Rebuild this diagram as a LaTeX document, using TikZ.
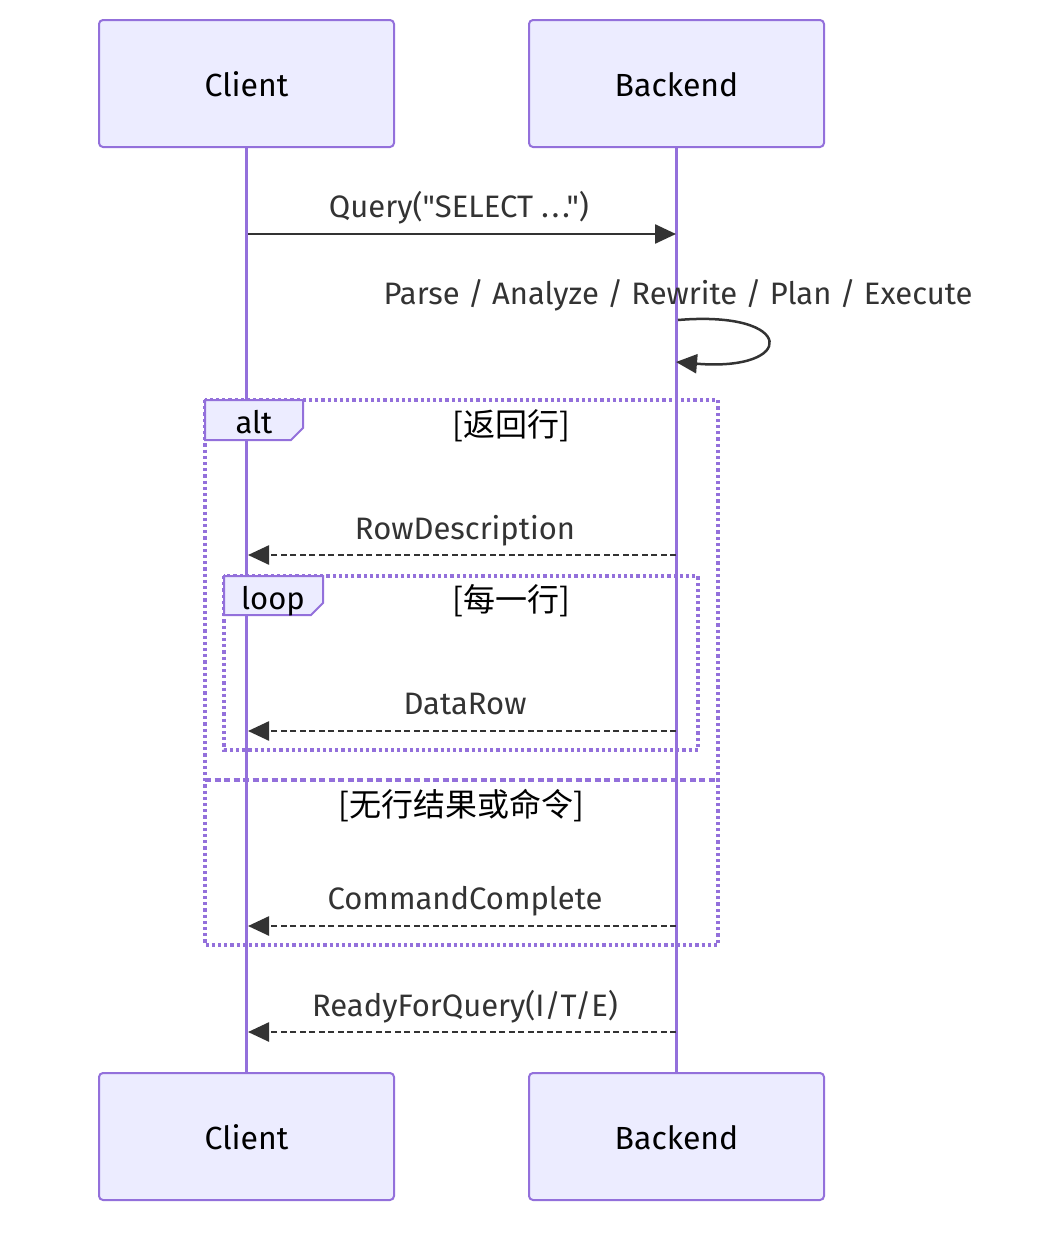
\documentclass[tikz,border=0pt]{standalone}
\usepackage{fontspec}
\setmainfont{Fira Sans}[Ligatures={TeXOff,NoCommon}]
\newfontfamily\cjk{Noto Sans CJK SC}
\usetikzlibrary{arrows.meta}
\definecolor{actfill}{HTML}{ECECFF}
\definecolor{actline}{HTML}{9370DB}
\definecolor{txt}{HTML}{333333}
\begin{document}
\begin{tikzpicture}[x=1pt,y=-1pt,
  actor/.style={draw=actline, fill=actfill, line width=2pt, rounded corners=4pt,
    minimum width=295pt, minimum height=127pt, inner sep=0pt},
  atext/.style={font=\fontsize{32}{38}\selectfont, text=black, anchor=base, inner sep=0pt},
  life/.style={draw=actline, line width=3.5pt},
  msg/.style={draw=txt, line width=2.5pt, -{Triangle[length=21pt,width=19pt]}},
  ret/.style={msg, dash pattern=on 6pt off 3.5pt},
  mlabel/.style={font=\fontsize{31}{36}\selectfont, text=txt, anchor=base, inner sep=0pt},
  clabel/.style={font=\cjk\fontsize{32}{38}\selectfont, text=black, anchor=base, inner sep=0pt},
  frame/.style={draw=actline, line width=3.2pt, dash pattern=on 3.2pt off 3pt},
  sep/.style={draw=actline, line width=3.2pt, dash pattern=on 6pt off 3.5pt},
  tab/.style={draw=actline, fill=actfill, line width=2pt},
  tabtext/.style={font=\fontsize{31}{36}\selectfont, text=black, anchor=base, inner sep=0pt}
]
\fill[white] (0,0) rectangle (1056,1240);
\useasboundingbox (0,0) rectangle (1056,1240);

% actors
\node[actor] (ct) at (246.5,83.5) {};
\node[actor] (bt) at (676.5,83.5) {};
\node[actor] (cb) at (246.5,1136.5) {};
\node[actor] (bb) at (676.5,1136.5) {};
\node[atext] (ctl) at (246.5,96) {Client};
\node[atext] (btl) at (676.5,96) {Backend};
\node[atext] (cbl) at (246.5,1149) {Client};
\node[atext] (bbl) at (676.5,1149) {Backend};

% lifelines
\draw[life] (ct.south) -- (cb.north);
\draw[life] (bt.south) -- (bb.north);

% frames
\draw[frame] (205,400) rectangle (718,945);
\draw[sep] (205,780) -- (718,780);
\draw[frame] (224,576) rectangle (698,750);
\draw[tab] (205,400) -- (303,400) -- (303,428) -- (291,440) -- (205,440) -- cycle;
\draw[tab] (224,576) -- (323,576) -- (323,603) -- (311,615) -- (224,615) -- cycle;
\node[tabtext] (altl) at (254,433) {alt};
\node[tabtext] (loopl) at (273,609) {loop};
\node[clabel] (c1) at (511,436) {[返回行]};
\node[clabel] (c2) at (511,611) {[每一行]};
\node[clabel] (c3) at (461,816) {[无行结果或命令]};

% message coordinates
\coordinate (q1) at (248,234);   \coordinate (q2) at (676,234);
\coordinate (s1) at (678,320);   \coordinate (s2) at (676,362);
\coordinate (r1) at (676,555);   \coordinate (r2) at (248,555);
\coordinate (d1) at (676,731);   \coordinate (d2) at (248,731);
\coordinate (k1) at (676,926);   \coordinate (k2) at (248,926);
\coordinate (y1) at (676,1032);  \coordinate (y2) at (248,1032);

% messages
\node[mlabel] (lq) at (459,217) {Query("SELECT .\kern3pt.\kern3pt.")};
\draw[msg] (q1) -- (q2);
\node[mlabel] (ls) at (678,304) {Parse / Analyze / Rewrite / Plan / Execute};
\draw[msg] (s1) .. controls (797,310) and (797,372) .. (s2);
\node[mlabel] (lr) at (465,539) {RowDescription};
\draw[ret] (r1) -- (r2);
\node[mlabel] (ld) at (465,714) {DataRow};
\draw[ret] (d1) -- (d2);
\node[mlabel] (lk) at (465,909) {CommandComplete};
\draw[ret] (k1) -- (k2);
\node[mlabel] (ly) at (465,1016) {ReadyForQuery(I/T/E)};
\draw[ret] (y1) -- (y2);
\end{tikzpicture}
\end{document}
